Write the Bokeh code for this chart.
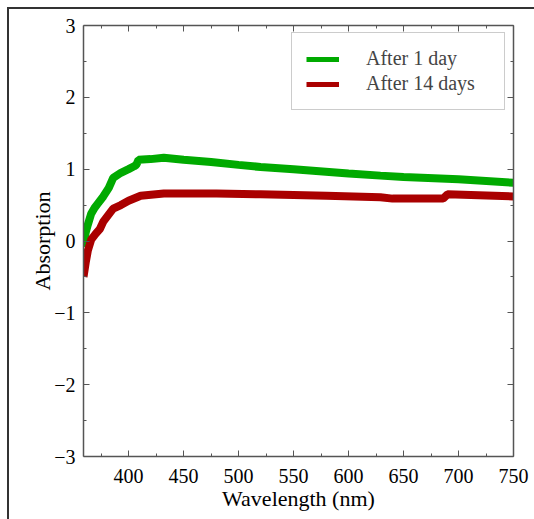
from bokeh.plotting import figure
from bokeh.models import LinearAxis, Range1d, Legend, LegendItem, FixedTicker
from bokeh.embed import file_html
from bokeh.resources import INLINE

# Data
green_wl = [359, 361, 363, 366, 369, 372, 377, 382, 386, 393, 400, 405, 407, 409, 420, 432, 450, 475, 500, 520, 550, 600, 629, 650, 700, 750]
green_abs = [-0.08, 0.12, 0.23, 0.38, 0.46, 0.52, 0.62, 0.74, 0.88, 0.95, 1.0, 1.04, 1.06, 1.13, 1.14, 1.16, 1.13, 1.1, 1.06, 1.03, 1.0, 0.94, 0.91, 0.89, 0.86, 0.81]
red_wl = [359, 361, 363, 366, 370, 374, 377, 382, 386, 393, 400, 411, 432, 480, 520, 580, 629, 640, 686, 690, 750]
red_abs = [-0.5, -0.3, -0.13, 0.02, 0.1, 0.17, 0.27, 0.37, 0.45, 0.5, 0.56, 0.63, 0.66, 0.66, 0.65, 0.63, 0.61, 0.59, 0.59, 0.65, 0.62]
labels = ["After 1 day", "After 14 days"]
x_ticks = [400, 450, 500, 550, 600, 650, 700, 750]
y_ticks = [-3, -2, -1, 0, 1, 2, 3]

FONT = "Liberation Serif"
AX = "#555555"
GREEN = "#00aa00"
RED = "#aa0000"

p = figure(width=534, height=519, output_backend="svg", toolbar_location=None,
           x_range=Range1d(359, 750), y_range=Range1d(-3, 3),
           min_border_left=83, min_border_right=21, min_border_top=25, min_border_bottom=63)
p.grid.visible = False
p.outline_line_color = None
p.background_fill_color = "white"
p.border_fill_color = None
# outer page frame (top and left edges), drawn behind the transparent border area
p.styles = {
    "background": "linear-gradient(#333333, #333333) 7px 7px / 100% 2px no-repeat, "
                  "linear-gradient(#333333, #333333) 7px 7px / 2px 100% no-repeat, white",
}

g = p.line(green_wl, green_abs, line_color=GREEN, line_width=8)
r = p.line(red_wl, red_abs, line_color=RED, line_width=8)
# thinner swatches for the legend only
gl = p.line([float("nan")], [float("nan")], line_color=GREEN, line_width=5)
rl = p.line([float("nan")], [float("nan")], line_color=RED, line_width=5)

def style_axis(ax, labels_on=True):
    ax.axis_line_color = AX
    ax.axis_line_width = 1.5
    ax.major_tick_line_color = AX
    ax.minor_tick_line_color = AX
    ax.major_tick_in = 6
    ax.major_tick_out = 0
    ax.minor_tick_in = 3
    ax.minor_tick_out = 0
    ax.major_label_text_font = FONT
    ax.major_label_text_font_size = "20px"
    ax.major_label_text_color = "black"
    ax.axis_label_text_font = FONT
    ax.axis_label_text_font_size = "22px"
    ax.axis_label_text_font_style = "normal"
    ax.axis_label_text_color = "black"
    if not labels_on:
        ax.major_label_text_font_size = "0px"
        ax.major_label_text_color = None

minor_x = [375, 425, 475, 525, 575, 625, 675, 725]
minor_y = [-2.5, -1.5, -0.5, 0.5, 1.5, 2.5]

xa = p.xaxis[0]
xa.ticker = FixedTicker(ticks=x_ticks, minor_ticks=minor_x)
xa.axis_label = "Wavelength (nm)"
xa.major_label_standoff = 12
xa.axis_label_standoff = 0
style_axis(xa)
ya = p.yaxis[0]
ya.ticker = FixedTicker(ticks=y_ticks, minor_ticks=minor_y)
ya.axis_label = "Absorption"
ya.major_label_standoff = 8
ya.axis_label_standoff = -4
ya.major_label_overrides = {-3: "\u22123", -2: "\u22122", -1: "\u22121"}
style_axis(ya)

top = LinearAxis(ticker=FixedTicker(ticks=x_ticks, minor_ticks=minor_x))
style_axis(top, False)
p.add_layout(top, "above")
right = LinearAxis(ticker=FixedTicker(ticks=y_ticks, minor_ticks=minor_y))
style_axis(right, False)
p.add_layout(right, "right")

legend = Legend(items=[LegendItem(label=labels[0], renderers=[gl]),
                       LegendItem(label=labels[1], renderers=[rl])],
                location=(208, 346), margin=0, padding=14, spacing=2,
                glyph_width=33, glyph_height=20, label_standoff=27, label_height=20,
                label_width=124,
                label_text_font=FONT, label_text_font_size="20px",
                border_line_color="#999999", border_line_width=1.5,
                background_fill_color="white", background_fill_alpha=1)
p.add_layout(legend, "center")

open("out.html", "w").write(file_html(p, INLINE))
